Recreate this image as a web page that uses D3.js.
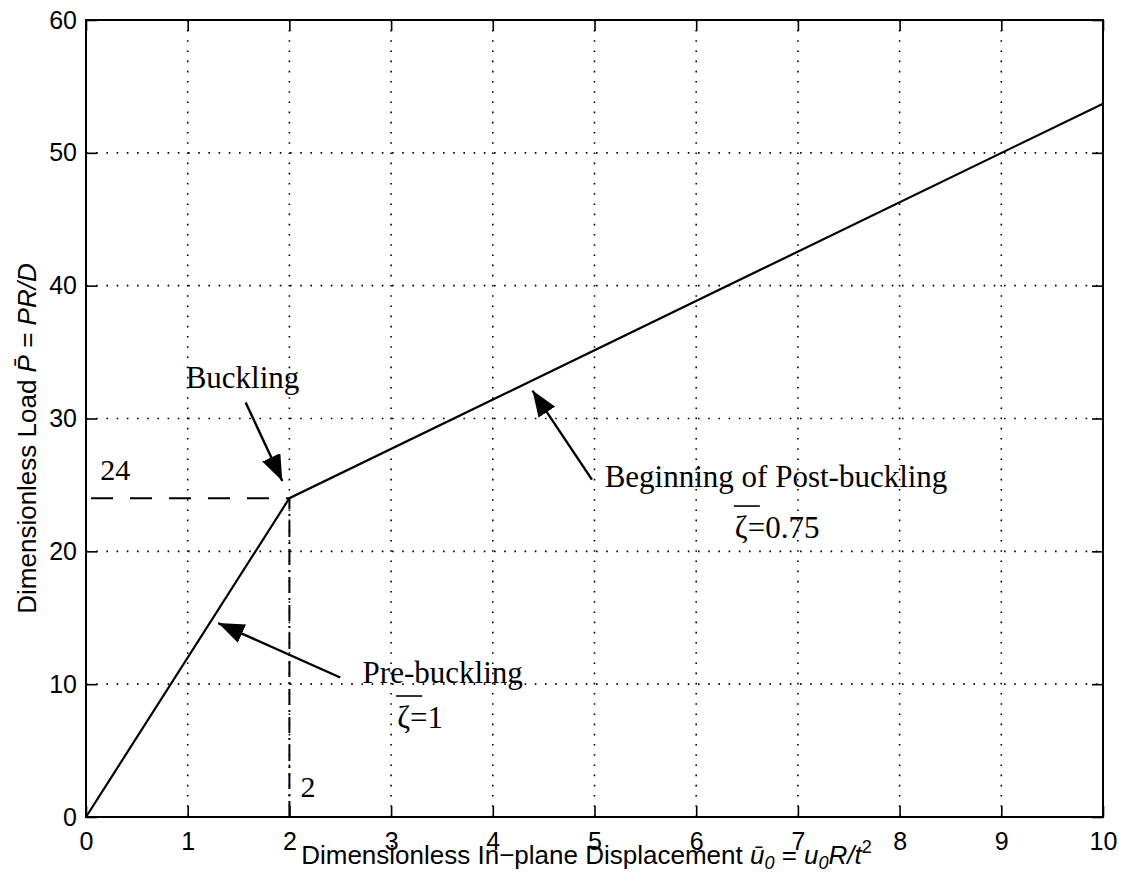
<!DOCTYPE html>
<html>
<head>
<meta charset="utf-8">
<script src="https://cdn.jsdelivr.net/npm/d3@7"></script>
<style>
  html, body { margin: 0; padding: 0; background: #fff; }
  svg { display: block; }
</style>
</head>
<body>
<svg id="chart" width="1125" height="886"></svg>
<script>
// Load–displacement curve: pre-buckling branch then post-buckling branch
const displacement = [0, 2, 10];
const load = [0, 24, 53.7];

// Buckling point
const bucklingU = 2;
const bucklingP = 24;

// Axis ticks
const xTicks = [0, 1, 2, 3, 4, 5, 6, 7, 8, 9, 10];
const yTicks = [0, 10, 20, 30, 40, 50, 60];

const svg = d3.select("#chart");
const W = 1125, H = 886;
const margin = { left: 86, top: 20, right: W - 1103, bottom: H - 817 };

const x = d3.scaleLinear().domain([0, 10]).range([margin.left, W - margin.right]);
const y = d3.scaleLinear().domain([0, 60]).range([H - margin.bottom, margin.top]);

const sans = "Liberation Sans, Arial, Helvetica, sans-serif";
const serif = "Liberation Serif, Times New Roman, serif";

// Dotted grid
const grid = svg.append("g").attr("stroke", "#000").attr("stroke-width", 1.6)
  .attr("stroke-dasharray", "1.6 8.6").attr("fill", "none");
grid.selectAll("line.gx").data(xTicks.slice(1, -1)).join("line")
  .attr("x1", d => x(d)).attr("x2", d => x(d))
  .attr("y1", y(0)).attr("y2", y(60));
grid.selectAll("line.gy").data(yTicks.slice(1, -1)).join("line")
  .attr("x1", x(0)).attr("x2", x(10))
  .attr("y1", d => y(d)).attr("y2", d => y(d));

// Axes with inward ticks on all four sides
const tickLen = 11;
const axisStyle = g => {
  g.select(".domain").remove();
  g.selectAll(".tick line").attr("stroke", "#000").attr("stroke-width", 1.6);
  g.selectAll(".tick text").attr("font-family", sans).attr("font-size", 25).attr("fill", "#000");
};
svg.append("g").attr("transform", `translate(0,${y(0)})`)
  .call(d3.axisBottom(x).tickValues(xTicks).tickFormat(d3.format("d")).tickSizeInner(-tickLen).tickSizeOuter(0).tickPadding(15))
  .call(axisStyle);
svg.append("g").attr("transform", `translate(0,${y(60)})`)
  .call(d3.axisTop(x).tickValues(xTicks).tickFormat("").tickSizeInner(-tickLen).tickSizeOuter(0))
  .call(axisStyle);
svg.append("g").attr("transform", `translate(${x(0)},0)`)
  .call(d3.axisLeft(y).tickValues(yTicks).tickFormat(d3.format("d")).tickSizeInner(-tickLen).tickSizeOuter(0).tickPadding(9))
  .call(axisStyle);
svg.append("g").attr("transform", `translate(${x(10)},0)`)
  .call(d3.axisRight(y).tickValues(yTicks).tickFormat("").tickSizeInner(-tickLen).tickSizeOuter(0))
  .call(axisStyle);

// Plot frame
svg.append("rect")
  .attr("x", x(0)).attr("y", y(60))
  .attr("width", x(10) - x(0)).attr("height", y(0) - y(60))
  .attr("fill", "none").attr("stroke", "#000").attr("stroke-width", 2);

// Reference lines to the buckling point
svg.append("line")
  .attr("x1", x(0)).attr("x2", x(bucklingU))
  .attr("y1", y(bucklingP)).attr("y2", y(bucklingP))
  .attr("stroke", "#000").attr("stroke-width", 2).attr("stroke-dasharray", "22 17")
  .attr("stroke-dashoffset", -5);
svg.append("line")
  .attr("x1", x(bucklingU)).attr("x2", x(bucklingU))
  .attr("y1", y(0)).attr("y2", y(bucklingP))
  .attr("stroke", "#000").attr("stroke-width", 2).attr("stroke-dasharray", "16 5 2 5");

// Load–displacement curve
const pts = displacement.map((u, i) => [u, load[i]]);
svg.append("path")
  .datum(pts)
  .attr("d", d3.line().x(d => x(d[0])).y(d => y(d[1])))
  .attr("fill", "none").attr("stroke", "#000").attr("stroke-width", 2.2);

// Arrow marker
svg.append("defs").append("marker")
  .attr("id", "head").attr("viewBox", "0 0 26 20")
  .attr("refX", 26).attr("refY", 10)
  .attr("markerWidth", 26).attr("markerHeight", 20)
  .attr("markerUnits", "userSpaceOnUse").attr("orient", "auto")
  .append("path").attr("d", "M0,0 L26,10 L0,20 Z").attr("fill", "#000");

const arrow = (u0, p0, u1, p1) => svg.append("line")
  .attr("x1", x(u0)).attr("y1", y(p0)).attr("x2", x(u1)).attr("y2", y(p1))
  .attr("stroke", "#000").attr("stroke-width", 2.4).attr("marker-end", "url(#head)");

arrow(1.57, 31.2, 1.93, 25.3);
arrow(4.975, 25.4, 4.39, 32.1);
arrow(2.5, 10.5, 1.3, 14.6);

// Annotation text
const note = (u, p, txt, size = 31) => svg.append("text")
  .attr("x", x(u)).attr("y", y(p))
  .attr("font-family", serif).attr("font-size", size).attr("fill", "#000")
  .text(txt);

note(0.98, 32.3, "Buckling");
note(0.14, 25.4, "24", 30);
note(2.11, 1.5, "2", 30);
note(5.1, 24.85, "Beginning of Post-buckling");
note(2.72, 10.1, "Pre-buckling");

// ζ labels with an overbar over ζ
const zeta = (u, p, rest) => {
  const t = note(u, p, "ζ" + rest);
  const bx = x(u) - 1;
  svg.append("line")
    .attr("x1", bx).attr("x2", bx + 26)
    .attr("y1", y(p) - 32).attr("y2", y(p) - 32)
    .attr("stroke", "#000").attr("stroke-width", 1.6);
  return t;
};
zeta(6.38, 21.0, "=0.75");
zeta(3.06, 6.7, "=1");

// Axis titles
const xl = svg.append("text")
  .attr("x", (x(0) + x(10)) / 2 - 8).attr("y", 864)
  .attr("text-anchor", "middle")
  .attr("font-family", sans).attr("font-size", 26).attr("fill", "#000");
xl.append("tspan").text("Dimensionless In\u2212plane Displacement ");
xl.append("tspan").attr("font-style", "italic").text("u\u0304");
xl.append("tspan").attr("font-style", "italic").attr("font-size", 18).attr("dy", 5).text("0");
xl.append("tspan").attr("dy", -5).text(" = ");
xl.append("tspan").attr("font-style", "italic").text("u");
xl.append("tspan").attr("font-style", "italic").attr("font-size", 18).attr("dy", 5).text("0");
xl.append("tspan").attr("font-style", "italic").attr("dy", -5).text("R/t");
xl.append("tspan").attr("font-size", 18).attr("dy", -11).text("2");

const yl = svg.append("text")
  .attr("transform", `translate(36,${(y(0) + y(60)) / 2 + 20}) rotate(-90)`)
  .attr("text-anchor", "middle")
  .attr("font-family", sans).attr("font-size", 26).attr("fill", "#000");
yl.append("tspan").text("Dimensionless Load ");
yl.append("tspan").attr("font-style", "italic").text("P\u0304");
yl.append("tspan").text(" = ");
yl.append("tspan").attr("font-style", "italic").text("PR/D");
</script>
</body>
</html>
